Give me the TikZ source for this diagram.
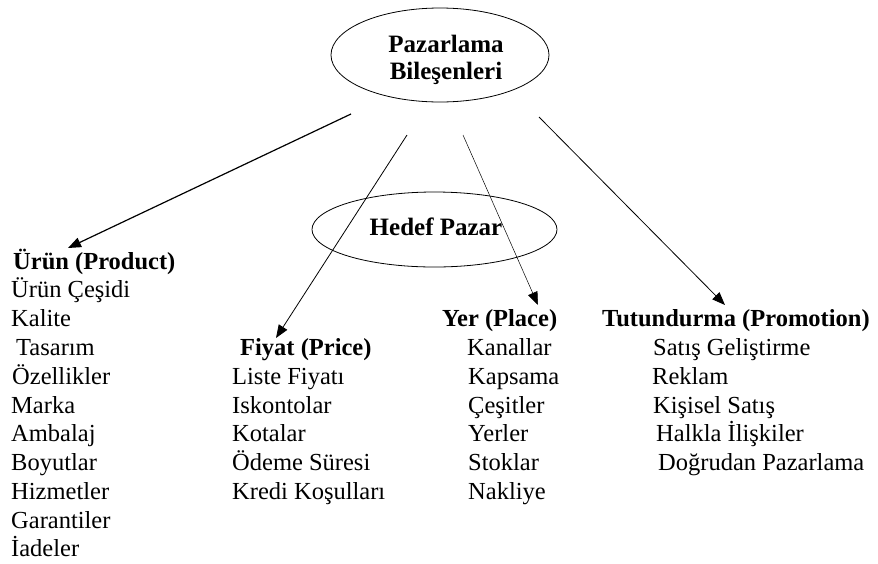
\documentclass[tikz,border=0pt]{standalone}
\usepackage{fontspec}
\setmainfont{Liberation Serif}
\usetikzlibrary{arrows.meta,shapes.geometric}
\begin{document}
\begin{tikzpicture}[x=1pt,y=-1pt,
  txt/.style={anchor=base west,inner sep=0pt,font=\fontsize{24.5}{29}\selectfont},
  hd/.style={anchor=base west,inner sep=0pt,font=\fontsize{24.5}{29}\selectfont\bfseries},
  oval/.style={draw,ellipse,line width=0.8pt,inner sep=0pt},
  ovaltxt/.style={anchor=base,inner sep=0pt,font=\fontsize{25}{27}\selectfont\bfseries},
  arr/.style={-{Triangle[length=13pt,width=10pt]},line width=0.8pt}]
\useasboundingbox (0,0) rectangle (878,563);

% ellipses
\node[oval,minimum width=218pt,minimum height=94pt] (pb) at (440,55) {};
\node[ovaltxt] (pbt1) at (446,52) {Pazarlama};
\node[ovaltxt] (pbt2) at (446,79) {Bileşenleri};
\node[oval,minimum width=245pt,minimum height=75pt] (hp) at (434.5,229.5) {};
\node[ovaltxt] (hpt) at (436,235) {Hedef Pazar};

% column 1: Ürün
\node[hd]  (urun) at (13,269) {Ürün (Product)};
\node[txt] (u1) at (11,297) {Ürün Çeşidi};
\node[txt] (u2) at (11,326) {Kalite};
\node[txt] (u3) at (16,355) {Tasarım};
\node[txt] (u4) at (12,384) {Özellikler};
\node[txt] (u5) at (11,413) {Marka};
\node[txt] (u6) at (11,441) {Ambalaj};
\node[txt] (u7) at (11,470) {Boyutlar};
\node[txt] (u8) at (11,499) {Hizmetler};
\node[txt] (u9) at (11,528) {Garantiler};
\node[txt] (u10) at (11,556) {İadeler};

% column 2: Fiyat
\node[hd]  (fiyat) at (240,355) {Fiyat (Price)};
\node[txt] (f1) at (232,384) {Liste Fiyatı};
\node[txt] (f2) at (232,413) {Iskontolar};
\node[txt] (f3) at (232,441) {Kotalar};
\node[txt] (f4) at (232,470) {Ödeme Süresi};
\node[txt] (f5) at (232,499) {Kredi Koşulları};

% column 3: Yer
\node[hd]  (yer) at (442,326) {Yer (Place)};
\node[txt] (y1) at (467,355) {Kanallar};
\node[txt] (y2) at (468,384) {Kapsama};
\node[txt] (y3) at (468,413) {Çeşitler};
\node[txt] (y4) at (468,441) {Yerler};
\node[txt] (y5) at (468,470) {Stoklar};
\node[txt] (y6) at (468,499) {Nakliye};

% column 4: Tutundurma
\node[hd]  (tut) at (602,326) {Tutundurma (Promotion)};
\node[txt] (t1) at (653,355) {Satış Geliştirme};
\node[txt] (t2) at (652,384) {Reklam};
\node[txt] (t3) at (653,413) {Kişisel Satış};
\node[txt] (t4) at (656,441) {Halkla İlişkiler};
\node[txt] (t5) at (658,470) {Doğrudan Pazarlama};

% arrow ends
\coordinate (s1) at (351,114);
\coordinate (e1) at (68,248);
\coordinate (s2) at (407,135);
\coordinate (e2) at (276,338);
\coordinate (s3) at (463,135);
\coordinate (e3) at (538,305);
\coordinate (s4) at (539,117);
\coordinate (e4) at (725,305);

\draw[arr,line width=1.2pt] (s1) -- (e1);
\draw[arr] (s2) -- (e2);
\draw[arr,line width=0.5pt] (s3) -- (e3);
\draw[arr] (s4) -- (e4);
\end{tikzpicture}
\end{document}
